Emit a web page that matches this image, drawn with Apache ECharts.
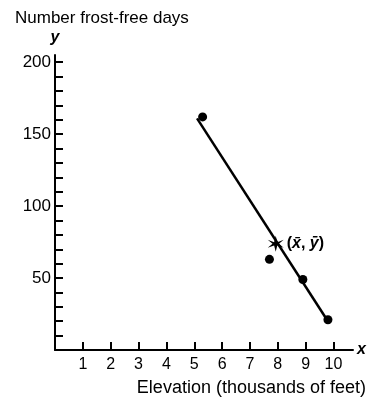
<!DOCTYPE html>
<html><head><meta charset="utf-8">
<script src="https://cdn.jsdelivr.net/npm/echarts@6/dist/echarts.min.js"></script>
<style>html,body{margin:0;padding:0;background:#fff}#c{width:372px;height:398px}</style>
</head><body><div id="c"></div>
<script>
var elevation = [5.3, 7.7, 8.9, 9.8];
var frostFreeDays = [162, 63, 49, 21];
var meanPoint = [7.925, 73.75];
var lineEnds = [[5.1, 161], [9.8, 20]];
var xTicks = [1, 2, 3, 4, 5, 6, 7, 8, 9, 10];
var yTicks = [10, 20, 30, 40, 50, 60, 70, 80, 90, 100, 110, 120, 130, 140, 150, 160, 170, 180, 190, 200];
var yLabels = [50, 100, 150, 200];

var font = '"Liberation Sans", Arial, sans-serif';
var chart = echarts.init(document.getElementById('c'));
chart.setOption({
  animation: false,
  backgroundColor: '#fff',
  textStyle: {fontFamily: font, color: '#000'},
  title: [
    {text: 'Number frost-free days', left: 10, top: 5, textStyle: {fontFamily: font, fontSize: 17, fontWeight: 'normal', color: '#000'}},
    {text: 'Elevation (thousands of feet)', right: 1, top: 374, textStyle: {fontFamily: font, fontSize: 18, fontWeight: 'normal', color: '#000'}}
  ],
  grid: {left: 55, right: 19, top: 55, bottom: 48},
  xAxis: {
    type: 'value', min: 0, max: 10.7,
    name: 'x', nameLocation: 'end', nameGap: 4,
    nameTextStyle: {fontFamily: font, fontSize: 16, fontStyle: 'italic', fontWeight: 'bold', color: '#000', verticalAlign: 'middle'},
    axisLine: {show: true, lineStyle: {color: '#000', width: 2}},
    axisTick: {show: true, inside: true, length: 8, lineStyle: {color: '#000', width: 2}, customValues: xTicks},
    axisLabel: {show: true, fontFamily: font, fontSize: 16, color: '#000', margin: 7, customValues: xTicks},
    splitLine: {show: false}
  },
  yAxis: {
    type: 'value', min: 0, max: 205,
    name: 'y', nameLocation: 'end', nameGap: 9,
    nameTextStyle: {fontFamily: font, fontSize: 16, fontStyle: 'italic', fontWeight: 'bold', color: '#000', align: 'center'},
    axisLine: {show: true, lineStyle: {color: '#000', width: 2}},
    axisTick: {show: true, inside: true, length: 8, lineStyle: {color: '#000', width: 2}, customValues: yTicks},
    axisLabel: {show: true, fontFamily: font, fontSize: 17, color: '#000', margin: 4, customValues: yLabels},
    splitLine: {show: false}
  },
  series: [
    {
      type: 'line', data: lineEnds, symbol: 'none',
      lineStyle: {color: '#000', width: 2.5}, z: 2
    },
    {
      type: 'scatter',
      data: elevation.map(function (x, i) { return [x, frostFreeDays[i]]; }),
      symbol: 'circle', symbolSize: 9,
      itemStyle: {color: '#000', opacity: 1}, z: 3
    },
    {
      type: 'scatter', data: [meanPoint],
      symbol: 'path://M5,0 L6,4 L10,2.5 L7,5 L10,7.5 L6,6 L5,10 L4,6 L0,7.5 L3,5 L0,2.5 L4,4 Z',
      symbolSize: 16,
      itemStyle: {color: '#000', opacity: 1}, z: 4,
      label: {
        show: true, position: 'right', distance: 3,
        formatter: '({i|x\u0304}, {i|y\u0304})',
        fontFamily: font, fontSize: 16, fontWeight: 'bold', color: '#000',
        rich: {i: {fontFamily: font, fontSize: 16, fontStyle: 'italic', fontWeight: 'bold', color: '#000'}}
      }
    }
  ]
});
</script>
</body></html>
